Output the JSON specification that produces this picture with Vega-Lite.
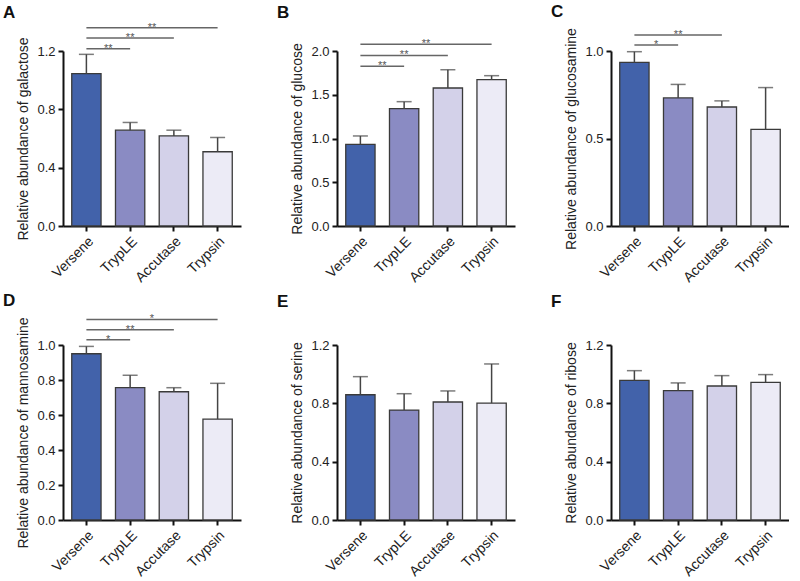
{
  "$schema": "https://vega.github.io/schema/vega-lite/v6.json",
  "padding": {"left": 2, "top": 2, "right": 0, "bottom": 0},
  "columns": 3,
  "spacing": {"row": 7, "column": 35},
  "config": {
    "font": "Liberation Sans",
    "view": {"stroke": null},
    "axis": {"domainColor": "#111", "domainWidth": 2, "tickColor": "#111", "tickWidth": 2, "tickSize": 5, "labelFontSize": 13, "labelColor": "#222", "titleFontSize": 14, "titleFontWeight": "normal", "titleColor": "#222", "grid": false, "labelOverlap": false},
    "axisX": {"labelAngle": -45, "labelAlign": "right", "labelBaseline": "top", "labelPadding": 3, "labelFontSize": 14},
    "axisY": {"titlePadding": 6, "labelPadding": 3, "tickCount": 10},
    "title": {"anchor": "start", "frame": "bounds", "fontSize": 17, "fontWeight": "bold", "color": "#111", "dx": -14}
  },
  "datasets": {
    "bars": [
      {"panel": "A", "group": "Versene", "mean": 1.045, "upper": 1.177},
      {"panel": "A", "group": "TrypLE", "mean": 0.657, "upper": 0.71},
      {"panel": "A", "group": "Accutase", "mean": 0.618, "upper": 0.657},
      {"panel": "A", "group": "Trypsin", "mean": 0.509, "upper": 0.607},
      {"panel": "B", "group": "Versene", "mean": 0.933, "upper": 1.029},
      {"panel": "B", "group": "TrypLE", "mean": 1.341, "upper": 1.421},
      {"panel": "B", "group": "Accutase", "mean": 1.577, "upper": 1.786},
      {"panel": "B", "group": "Trypsin", "mean": 1.672, "upper": 1.718},
      {"panel": "C", "group": "Versene", "mean": 0.935, "upper": 0.996},
      {"panel": "C", "group": "TrypLE", "mean": 0.732, "upper": 0.809},
      {"panel": "C", "group": "Accutase", "mean": 0.68, "upper": 0.715},
      {"panel": "C", "group": "Trypsin", "mean": 0.552, "upper": 0.791},
      {"panel": "D", "group": "Versene", "mean": 0.95, "upper": 0.992},
      {"panel": "D", "group": "TrypLE", "mean": 0.756, "upper": 0.827},
      {"panel": "D", "group": "Accutase", "mean": 0.733, "upper": 0.756},
      {"panel": "D", "group": "Trypsin", "mean": 0.577, "upper": 0.781},
      {"panel": "E", "group": "Versene", "mean": 0.859, "upper": 0.983},
      {"panel": "E", "group": "TrypLE", "mean": 0.754, "upper": 0.866},
      {"panel": "E", "group": "Accutase", "mean": 0.809, "upper": 0.885},
      {"panel": "E", "group": "Trypsin", "mean": 0.802, "upper": 1.07},
      {"panel": "F", "group": "Versene", "mean": 0.957, "upper": 1.024},
      {"panel": "F", "group": "TrypLE", "mean": 0.887, "upper": 0.94},
      {"panel": "F", "group": "Accutase", "mean": 0.919, "upper": 0.99},
      {"panel": "F", "group": "Trypsin", "mean": 0.944, "upper": 0.997}
    ],
    "sig": [
      {"panel": "A", "x1": 0, "x2": 1, "mid": 0.5, "y": 1.216, "label": "**"},
      {"panel": "A", "x1": 0, "x2": 2, "mid": 1, "y": 1.289, "label": "**"},
      {"panel": "A", "x1": 0, "x2": 3, "mid": 1.5, "y": 1.36, "label": "**"},
      {"panel": "B", "x1": 0, "x2": 1, "mid": 0.5, "y": 1.825, "label": "**"},
      {"panel": "B", "x1": 0, "x2": 2, "mid": 1, "y": 1.95, "label": "**"},
      {"panel": "B", "x1": 0, "x2": 3, "mid": 1.5, "y": 2.077, "label": "**"},
      {"panel": "C", "x1": 0, "x2": 1, "mid": 0.5, "y": 1.034, "label": "*"},
      {"panel": "C", "x1": 0, "x2": 2, "mid": 1, "y": 1.092, "label": "**"},
      {"panel": "D", "x1": 0, "x2": 1, "mid": 0.5, "y": 1.03, "label": "*"},
      {"panel": "D", "x1": 0, "x2": 2, "mid": 1, "y": 1.087, "label": "**"},
      {"panel": "D", "x1": 0, "x2": 3, "mid": 1.5, "y": 1.146, "label": "*"}
    ]
  },
  "concat": [
    {
      "title": {"text": "A", "offset": 0},
      "width": 178, "height": 175,
      "resolve": {"scale": {"x": "independent"}},
      "layer": [
        {
          "data": {"name": "bars"},
          "transform": [{"filter": "datum.panel === 'A'"}],
          "layer": [
            {"mark": {"type": "bar", "stroke": "#3a3a3a", "strokeWidth": 1.3},
             "encoding": {
               "x": {"field": "group", "type": "nominal", "sort": ["Versene", "TrypLE", "Accutase", "Trypsin"], "scale": {"paddingInner": 0.33, "paddingOuter": 0.2}, "axis": {"title": null}},
               "y": {"field": "mean", "type": "quantitative", "title": "Relative abundance of galactose", "scale": {"domain": [0, 1.2], "nice": false}, "axis": {"values": [0, 0.4, 0.8, 1.2], "format": ".1f"}},
               "color": {"field": "group", "type": "nominal", "scale": {"domain": ["Versene", "TrypLE", "Accutase", "Trypsin"], "range": ["#4262AA", "#8A8BC3", "#D3D1E9", "#ECEBF6"]}, "legend": null}}},
            {"mark": {"type": "rule", "color": "#444", "strokeWidth": 1.5},
             "encoding": {
               "x": {"field": "group", "type": "nominal", "sort": ["Versene", "TrypLE", "Accutase", "Trypsin"]},
               "y": {"field": "mean", "type": "quantitative", "title": "Relative abundance of galactose"},
               "y2": {"field": "upper"}}},
            {"mark": {"type": "tick", "color": "#444", "thickness": 1.5, "size": 15},
             "encoding": {
               "x": {"field": "group", "type": "nominal", "sort": ["Versene", "TrypLE", "Accutase", "Trypsin"]},
               "y": {"field": "upper", "type": "quantitative", "title": "Relative abundance of galactose"}}}
          ]
        },
        {
          "data": {"name": "sig"},
          "transform": [{"filter": "datum.panel === 'A'"}],
          "layer": [
            {"mark": {"type": "rule", "color": "#666", "strokeWidth": 1.5},
             "encoding": {
               "x": {"field": "x1", "type": "quantitative", "scale": {"domain": [-0.535, 3.535], "nice": false, "zero": false}, "axis": null},
               "x2": {"field": "x2"},
               "y": {"field": "y", "type": "quantitative", "title": "Relative abundance of galactose"}}},
            {"mark": {"type": "text", "color": "#555", "fontSize": 11, "baseline": "alphabetic", "dy": 3},
             "encoding": {
               "x": {"field": "mid", "type": "quantitative"},
               "y": {"field": "y", "type": "quantitative", "title": "Relative abundance of galactose"},
               "text": {"field": "label"}}}
          ]
        }
      ]
    },
    {
      "title": {"text": "B", "offset": 16},
      "width": 178, "height": 175,
      "resolve": {"scale": {"x": "independent"}},
      "layer": [
        {
          "data": {"name": "bars"},
          "transform": [{"filter": "datum.panel === 'B'"}],
          "layer": [
            {"mark": {"type": "bar", "stroke": "#3a3a3a", "strokeWidth": 1.3},
             "encoding": {
               "x": {"field": "group", "type": "nominal", "sort": ["Versene", "TrypLE", "Accutase", "Trypsin"], "scale": {"paddingInner": 0.33, "paddingOuter": 0.2}, "axis": {"title": null}},
               "y": {"field": "mean", "type": "quantitative", "title": "Relative abundance of glucose", "scale": {"domain": [0, 2.0], "nice": false}, "axis": {"values": [0, 0.5, 1.0, 1.5, 2.0], "format": ".1f"}},
               "color": {"field": "group", "type": "nominal", "scale": {"domain": ["Versene", "TrypLE", "Accutase", "Trypsin"], "range": ["#4262AA", "#8A8BC3", "#D3D1E9", "#ECEBF6"]}, "legend": null}}},
            {"mark": {"type": "rule", "color": "#444", "strokeWidth": 1.5},
             "encoding": {
               "x": {"field": "group", "type": "nominal", "sort": ["Versene", "TrypLE", "Accutase", "Trypsin"]},
               "y": {"field": "mean", "type": "quantitative", "title": "Relative abundance of glucose"},
               "y2": {"field": "upper"}}},
            {"mark": {"type": "tick", "color": "#444", "thickness": 1.5, "size": 15},
             "encoding": {
               "x": {"field": "group", "type": "nominal", "sort": ["Versene", "TrypLE", "Accutase", "Trypsin"]},
               "y": {"field": "upper", "type": "quantitative", "title": "Relative abundance of glucose"}}}
          ]
        },
        {
          "data": {"name": "sig"},
          "transform": [{"filter": "datum.panel === 'B'"}],
          "layer": [
            {"mark": {"type": "rule", "color": "#666", "strokeWidth": 1.5},
             "encoding": {
               "x": {"field": "x1", "type": "quantitative", "scale": {"domain": [-0.535, 3.535], "nice": false, "zero": false}, "axis": null},
               "x2": {"field": "x2"},
               "y": {"field": "y", "type": "quantitative", "title": "Relative abundance of glucose"}}},
            {"mark": {"type": "text", "color": "#555", "fontSize": 11, "baseline": "alphabetic", "dy": 3},
             "encoding": {
               "x": {"field": "mid", "type": "quantitative"},
               "y": {"field": "y", "type": "quantitative", "title": "Relative abundance of glucose"},
               "text": {"field": "label"}}}
          ]
        }
      ]
    },
    {
      "title": {"text": "C", "offset": 7},
      "width": 178, "height": 175,
      "resolve": {"scale": {"x": "independent"}},
      "layer": [
        {
          "data": {"name": "bars"},
          "transform": [{"filter": "datum.panel === 'C'"}],
          "layer": [
            {"mark": {"type": "bar", "stroke": "#3a3a3a", "strokeWidth": 1.3},
             "encoding": {
               "x": {"field": "group", "type": "nominal", "sort": ["Versene", "TrypLE", "Accutase", "Trypsin"], "scale": {"paddingInner": 0.33, "paddingOuter": 0.2}, "axis": {"title": null}},
               "y": {"field": "mean", "type": "quantitative", "title": "Relative abundance of glucosamine", "scale": {"domain": [0, 1.0], "nice": false}, "axis": {"values": [0, 0.5, 1.0], "format": ".1f"}},
               "color": {"field": "group", "type": "nominal", "scale": {"domain": ["Versene", "TrypLE", "Accutase", "Trypsin"], "range": ["#4262AA", "#8A8BC3", "#D3D1E9", "#ECEBF6"]}, "legend": null}}},
            {"mark": {"type": "rule", "color": "#444", "strokeWidth": 1.5},
             "encoding": {
               "x": {"field": "group", "type": "nominal", "sort": ["Versene", "TrypLE", "Accutase", "Trypsin"]},
               "y": {"field": "mean", "type": "quantitative", "title": "Relative abundance of glucosamine"},
               "y2": {"field": "upper"}}},
            {"mark": {"type": "tick", "color": "#444", "thickness": 1.5, "size": 15},
             "encoding": {
               "x": {"field": "group", "type": "nominal", "sort": ["Versene", "TrypLE", "Accutase", "Trypsin"]},
               "y": {"field": "upper", "type": "quantitative", "title": "Relative abundance of glucosamine"}}}
          ]
        },
        {
          "data": {"name": "sig"},
          "transform": [{"filter": "datum.panel === 'C'"}],
          "layer": [
            {"mark": {"type": "rule", "color": "#666", "strokeWidth": 1.5},
             "encoding": {
               "x": {"field": "x1", "type": "quantitative", "scale": {"domain": [-0.535, 3.535], "nice": false, "zero": false}, "axis": null},
               "x2": {"field": "x2"},
               "y": {"field": "y", "type": "quantitative", "title": "Relative abundance of glucosamine"}}},
            {"mark": {"type": "text", "color": "#555", "fontSize": 11, "baseline": "alphabetic", "dy": 3},
             "encoding": {
               "x": {"field": "mid", "type": "quantitative"},
               "y": {"field": "y", "type": "quantitative", "title": "Relative abundance of glucosamine"},
               "text": {"field": "label"}}}
          ]
        }
      ]
    },
    {
      "title": {"text": "D", "offset": 3},
      "width": 178, "height": 175,
      "resolve": {"scale": {"x": "independent"}},
      "layer": [
        {
          "data": {"name": "bars"},
          "transform": [{"filter": "datum.panel === 'D'"}],
          "layer": [
            {"mark": {"type": "bar", "stroke": "#3a3a3a", "strokeWidth": 1.3},
             "encoding": {
               "x": {"field": "group", "type": "nominal", "sort": ["Versene", "TrypLE", "Accutase", "Trypsin"], "scale": {"paddingInner": 0.33, "paddingOuter": 0.2}, "axis": {"title": null}},
               "y": {"field": "mean", "type": "quantitative", "title": "Relative abundance of mannosamine", "scale": {"domain": [0, 1.0], "nice": false}, "axis": {"values": [0, 0.2, 0.4, 0.6, 0.8, 1.0], "format": ".1f", "tickCount": 10}},
               "color": {"field": "group", "type": "nominal", "scale": {"domain": ["Versene", "TrypLE", "Accutase", "Trypsin"], "range": ["#4262AA", "#8A8BC3", "#D3D1E9", "#ECEBF6"]}, "legend": null}}},
            {"mark": {"type": "rule", "color": "#444", "strokeWidth": 1.5},
             "encoding": {
               "x": {"field": "group", "type": "nominal", "sort": ["Versene", "TrypLE", "Accutase", "Trypsin"]},
               "y": {"field": "mean", "type": "quantitative", "title": "Relative abundance of mannosamine"},
               "y2": {"field": "upper"}}},
            {"mark": {"type": "tick", "color": "#444", "thickness": 1.5, "size": 15},
             "encoding": {
               "x": {"field": "group", "type": "nominal", "sort": ["Versene", "TrypLE", "Accutase", "Trypsin"]},
               "y": {"field": "upper", "type": "quantitative", "title": "Relative abundance of mannosamine"}}}
          ]
        },
        {
          "data": {"name": "sig"},
          "transform": [{"filter": "datum.panel === 'D'"}],
          "layer": [
            {"mark": {"type": "rule", "color": "#666", "strokeWidth": 1.5},
             "encoding": {
               "x": {"field": "x1", "type": "quantitative", "scale": {"domain": [-0.535, 3.535], "nice": false, "zero": false}, "axis": null},
               "x2": {"field": "x2"},
               "y": {"field": "y", "type": "quantitative", "title": "Relative abundance of mannosamine"}}},
            {"mark": {"type": "text", "color": "#555", "fontSize": 11, "baseline": "alphabetic", "dy": 3},
             "encoding": {
               "x": {"field": "mid", "type": "quantitative"},
               "y": {"field": "y", "type": "quantitative", "title": "Relative abundance of mannosamine"},
               "text": {"field": "label"}}}
          ]
        }
      ]
    },
    {
      "title": {"text": "E", "offset": 28},
      "width": 178, "height": 175,
      "data": {"name": "bars"},
      "transform": [{"filter": "datum.panel === 'E'"}],
      "layer": [
        {"mark": {"type": "bar", "stroke": "#3a3a3a", "strokeWidth": 1.3},
         "encoding": {
           "x": {"field": "group", "type": "nominal", "sort": ["Versene", "TrypLE", "Accutase", "Trypsin"], "scale": {"paddingInner": 0.33, "paddingOuter": 0.2}, "axis": {"title": null}},
           "y": {"field": "mean", "type": "quantitative", "title": "Relative abundance of serine", "scale": {"domain": [0, 1.2], "nice": false}, "axis": {"values": [0, 0.4, 0.8, 1.2], "format": ".1f"}},
           "color": {"field": "group", "type": "nominal", "scale": {"domain": ["Versene", "TrypLE", "Accutase", "Trypsin"], "range": ["#4262AA", "#8A8BC3", "#D3D1E9", "#ECEBF6"]}, "legend": null}}},
        {"mark": {"type": "rule", "color": "#444", "strokeWidth": 1.5},
         "encoding": {
           "x": {"field": "group", "type": "nominal", "sort": ["Versene", "TrypLE", "Accutase", "Trypsin"]},
           "y": {"field": "mean", "type": "quantitative", "title": "Relative abundance of serine"},
           "y2": {"field": "upper"}}},
        {"mark": {"type": "tick", "color": "#444", "thickness": 1.5, "size": 15},
         "encoding": {
           "x": {"field": "group", "type": "nominal", "sort": ["Versene", "TrypLE", "Accutase", "Trypsin"]},
           "y": {"field": "upper", "type": "quantitative", "title": "Relative abundance of serine"}}}
      ]
    },
    {
      "title": {"text": "F", "offset": 28},
      "width": 178, "height": 175,
      "data": {"name": "bars"},
      "transform": [{"filter": "datum.panel === 'F'"}],
      "layer": [
        {"mark": {"type": "bar", "stroke": "#3a3a3a", "strokeWidth": 1.3},
         "encoding": {
           "x": {"field": "group", "type": "nominal", "sort": ["Versene", "TrypLE", "Accutase", "Trypsin"], "scale": {"paddingInner": 0.33, "paddingOuter": 0.2}, "axis": {"title": null}},
           "y": {"field": "mean", "type": "quantitative", "title": "Relative abundance of ribose", "scale": {"domain": [0, 1.2], "nice": false}, "axis": {"values": [0, 0.4, 0.8, 1.2], "format": ".1f"}},
           "color": {"field": "group", "type": "nominal", "scale": {"domain": ["Versene", "TrypLE", "Accutase", "Trypsin"], "range": ["#4262AA", "#8A8BC3", "#D3D1E9", "#ECEBF6"]}, "legend": null}}},
        {"mark": {"type": "rule", "color": "#444", "strokeWidth": 1.5},
         "encoding": {
           "x": {"field": "group", "type": "nominal", "sort": ["Versene", "TrypLE", "Accutase", "Trypsin"]},
           "y": {"field": "mean", "type": "quantitative", "title": "Relative abundance of ribose"},
           "y2": {"field": "upper"}}},
        {"mark": {"type": "tick", "color": "#444", "thickness": 1.5, "size": 15},
         "encoding": {
           "x": {"field": "group", "type": "nominal", "sort": ["Versene", "TrypLE", "Accutase", "Trypsin"]},
           "y": {"field": "upper", "type": "quantitative", "title": "Relative abundance of ribose"}}}
      ]
    }
  ]
}
